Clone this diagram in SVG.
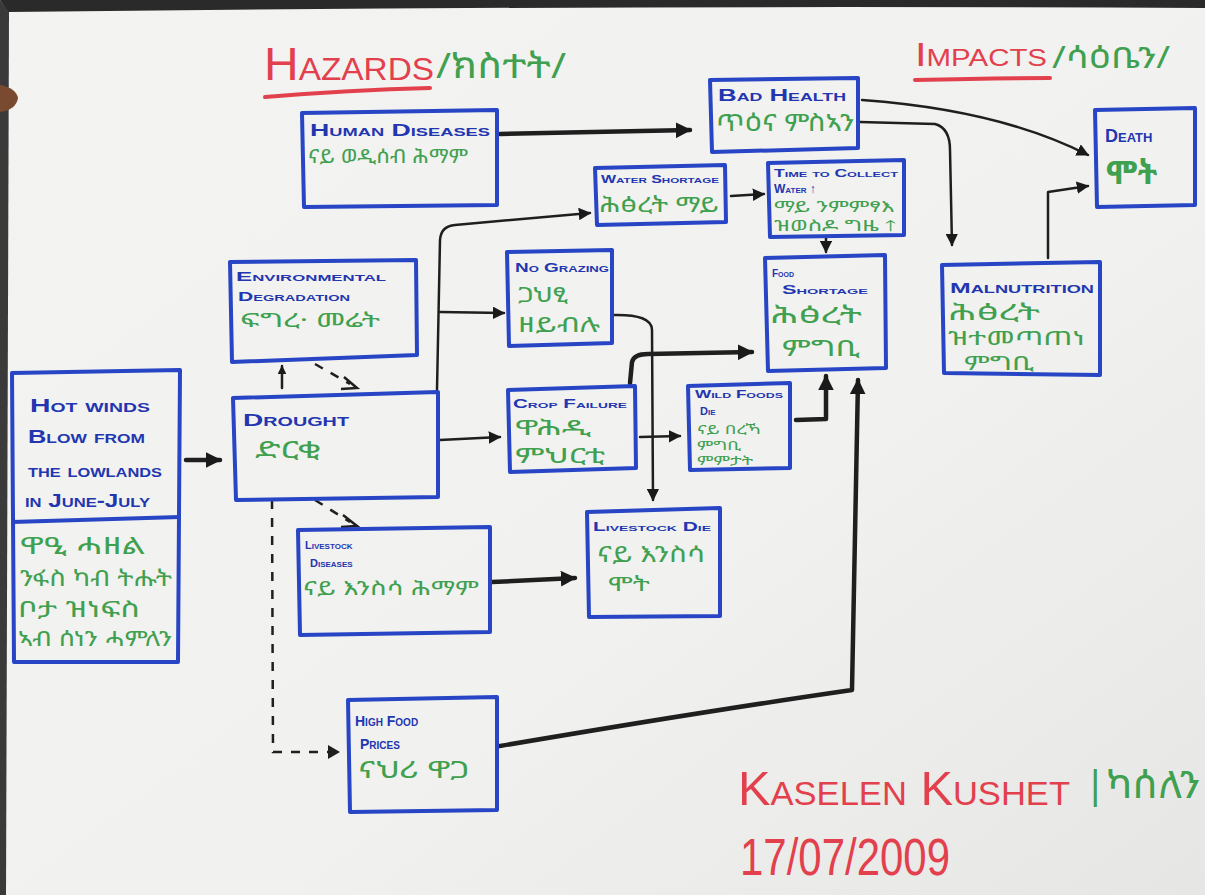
<svg xmlns="http://www.w3.org/2000/svg" width="1205" height="895" viewBox="0 0 1205 895">
<defs>
<linearGradient id="paper" x1="0" y1="0" x2="1" y2="1">
<stop offset="0" stop-color="#f3f3f1"/>
<stop offset="0.6" stop-color="#f1f1ef"/>
<stop offset="1" stop-color="#e6e6e4"/>
</linearGradient>
<marker id="ah" viewBox="0 0 10 10" refX="9" refY="5" markerWidth="5" markerHeight="5" orient="auto" markerUnits="strokeWidth">
<path d="M0,0 L10,5 L0,10 Z" fill="#1a1a1a"/>
</marker>
<marker id="ahs" viewBox="0 0 10 10" refX="9" refY="5" markerWidth="3.5" markerHeight="3.5" orient="auto" markerUnits="strokeWidth">
<path d="M0,0 L10,5 L0,10 Z" fill="#1a1a1a"/>
</marker>
<style>
.box{fill:none;stroke:#2745c4;stroke-width:4;stroke-linejoin:round}
.en{font-family:"Liberation Sans",Arial,sans-serif;font-variant:small-caps;font-weight:bold;fill:#2236b0}
.am{font-family:"Noto Sans Ethiopic","Abyssinica SIL","Nyala","FreeSerif","Noto Sans",sans-serif;fill:#3fa04f}
.red{font-family:"Liberation Sans",Arial,sans-serif;fill:#e2404d}
.c{fill:none;stroke:#1f1f1f;stroke-width:2.5;stroke-linecap:round;stroke-linejoin:round}
.ct{fill:none;stroke:#1f1f1f;stroke-width:4.5;stroke-linecap:round;stroke-linejoin:round}
.cd{fill:none;stroke:#1f1f1f;stroke-width:2.5;stroke-dasharray:9 9}
</style>
</defs>
<rect width="1205" height="895" fill="url(#paper)"/>
<path d="M0,0 H1205 V8 Q600,5 8,12 Z" fill="#2a2a2a"/>
<path d="M0,0 V895 H6 L9,12 Z" fill="#3a3a3a"/>
<path d="M0,85 Q16,88 18,98 Q16,110 0,112 Z" fill="#7a4a30"/>

<g id="titles">
<text class="red" x="264" y="80" font-size="46" font-variant="small-caps" textLength="170" lengthAdjust="spacingAndGlyphs">Hazards</text>
<path d="M265,97 Q350,90 430,88" stroke="#e2404d" stroke-width="4" fill="none" stroke-linecap="round"/>
<text class="am" x="436" y="78" font-size="34" textLength="130" lengthAdjust="spacingAndGlyphs">/ክስተት/</text>
<text class="red" x="915" y="66" font-size="34" font-variant="small-caps" textLength="132" lengthAdjust="spacingAndGlyphs">Impacts</text>
<path d="M915,80 Q990,78 1050,78" stroke="#e2404d" stroke-width="4" fill="none" stroke-linecap="round"/>
<text class="am" x="1052" y="68" font-size="30" textLength="118" lengthAdjust="spacingAndGlyphs">/ሳዕቤን/</text>
<text class="red" x="738" y="805" font-size="48" font-variant="small-caps" textLength="332" lengthAdjust="spacingAndGlyphs">Kaselen Kushet</text>
<text class="am" x="1084" y="798" font-size="38" textLength="116" lengthAdjust="spacingAndGlyphs">|ካሰለን</text>
<text class="red" x="740" y="875" font-size="52" textLength="210" lengthAdjust="spacingAndGlyphs">17/07/2009</text>
</g>

<g id="connectors">
<path class="ct" d="M500,134 L690,130" marker-end="url(#ahs)"/>
<path class="c" d="M862,100 Q1000,110 1088,155" marker-end="url(#ah)"/>
<path class="c" d="M860,122 L935,124 Q950,128 950,150 L952,245" marker-end="url(#ah)"/>
<path class="c" d="M1048,258 L1048,192 L1088,186" marker-end="url(#ah)"/>
<path class="c" d="M731,196 L764,194" marker-end="url(#ah)"/>
<path class="c" d="M826,236 L826,252" marker-end="url(#ah)"/>
<path class="c" d="M437,390 L440,240 Q441,226 455,225 L590,213" marker-end="url(#ah)"/>
<path class="c" d="M440,312 L504,313" marker-end="url(#ah)"/>
<path class="c" d="M440,440 L500,437" marker-end="url(#ah)"/>
<path class="c" d="M282,388 L282,366" marker-end="url(#ahs)"/>
<path class="cd" d="M315,364 L350,384"/>
<path d="M344,377 L357,388 L341,389" fill="none" stroke="#1f1f1f" stroke-width="2.5"/>
<path class="cd" d="M315,500 L350,522"/>
<path d="M343,515 L357,526 L341,527" fill="none" stroke="#1f1f1f" stroke-width="2.5"/>
<path class="cd" d="M272,500 L273,752 L330,752"/>
<path d="M328,745 L340,752 L328,759 Z" fill="#1f1f1f"/>
<path class="ct" d="M186,460 L220,460" marker-end="url(#ahs)"/>
<path class="c" d="M613,315 Q652,314 652,330 L653,500" marker-end="url(#ah)"/>
<path class="ct" d="M630,383 L632,362 Q634,354 648,354 L752,352" marker-end="url(#ahs)"/>
<path class="c" d="M640,437 L680,436" marker-end="url(#ah)"/>
<path class="ct" d="M796,420 L826,419 L826,376" marker-end="url(#ahs)"/>
<path class="ct" d="M492,582 L575,578" marker-end="url(#ahs)"/>
<path class="ct" d="M500,746 Q700,712 852,690 L858,380" marker-end="url(#ahs)"/>
</g>

<g id="human-diseases">
<path class="box" d="M302,113 L497,110 L497,205 L304,207 Z"/>
<text class="en" x="310" y="136" font-size="16" textLength="180" lengthAdjust="spacingAndGlyphs">Human Diseases</text>
<text class="am" x="308" y="163" font-size="19" textLength="160" lengthAdjust="spacingAndGlyphs">ናይ ወዲሰብ ሕማም</text>
</g>
<g id="bad-health">
<path class="box" d="M710,80 L858,78 L858,148 L712,152 Z"/>
<text class="en" x="718" y="101" font-size="16" textLength="128" lengthAdjust="spacingAndGlyphs">Bad Health</text>
<text class="am" x="716" y="131" font-size="24" textLength="138" lengthAdjust="spacingAndGlyphs">ጥዕና ምስኣን</text>
</g>
<g id="death">
<path class="box" d="M1095,110 L1195,108 L1195,205 L1097,207 Z"/>
<text class="en" x="1105" y="142" font-size="18">Death</text>
<text class="am" x="1106" y="184" font-size="32" font-weight="bold" fill="#2f9a45">ሞት</text>
</g>
<g id="water-shortage">
<path class="box" d="M595,168 L725,165 L726,222 L597,225 Z"/>
<text class="en" x="601" y="183" font-size="11" textLength="118" lengthAdjust="spacingAndGlyphs">Water Shortage</text>
<text class="am" x="599" y="212" font-size="21" textLength="120" lengthAdjust="spacingAndGlyphs">ሕፅረት ማይ</text>
</g>
<g id="time-to-collect-water">
<path class="box" d="M768,163 L904,160 L904,235 L770,237 Z"/>
<text class="en" x="774" y="177" font-size="11" textLength="124" lengthAdjust="spacingAndGlyphs">Time to Collect</text>
<text class="en" x="774" y="193" font-size="12">Water ↑</text>
<text class="am" x="774" y="212" font-size="15" textLength="120" lengthAdjust="spacingAndGlyphs">ማይ ንምምፃእ</text>
<text class="am" x="774" y="231" font-size="15" textLength="122" lengthAdjust="spacingAndGlyphs">ዝወስዶ ግዜ ↑</text>
</g>
<g id="environmental-degradation">
<path class="box" d="M230,262 L416,260 L417,355 L232,362 Z"/>
<text class="en" x="236" y="281" font-size="13" textLength="150" lengthAdjust="spacingAndGlyphs">Environmental</text>
<text class="en" x="238" y="301" font-size="13" textLength="112" lengthAdjust="spacingAndGlyphs">Degradation</text>
<text class="am" x="240" y="327" font-size="19" textLength="140" lengthAdjust="spacingAndGlyphs">ፍግረ· መሬት</text>
</g>
<g id="no-grazing">
<path class="box" d="M507,252 L612,250 L612,343 L509,346 Z"/>
<text class="en" x="515" y="272" font-size="13" textLength="94" lengthAdjust="spacingAndGlyphs">No Grazing</text>
<text class="am" x="518" y="302" font-size="21" textLength="50" lengthAdjust="spacingAndGlyphs">ጋህፂ</text>
<text class="am" x="518" y="332" font-size="21" textLength="82" lengthAdjust="spacingAndGlyphs">ዘይብሉ</text>
</g>
<g id="food-shortage">
<path class="box" d="M765,258 L885,255 L886,368 L768,371 Z"/>
<text class="en" x="772" y="277" font-size="10">Food</text>
<text class="en" x="782" y="294" font-size="12" textLength="86" lengthAdjust="spacingAndGlyphs">Shortage</text>
<text class="am" x="770" y="323" font-size="23" textLength="92" lengthAdjust="spacingAndGlyphs">ሕፅረት</text>
<text class="am" x="782" y="356" font-size="23" textLength="78" lengthAdjust="spacingAndGlyphs">ምግቢ</text>
</g>
<g id="malnutrition">
<path class="box" d="M942,265 L1100,262 L1100,375 L944,373 Z"/>
<text class="en" x="950" y="293" font-size="15" textLength="144" lengthAdjust="spacingAndGlyphs">Malnutrition</text>
<text class="am" x="948" y="320" font-size="22" textLength="92" lengthAdjust="spacingAndGlyphs">ሕፅረት</text>
<text class="am" x="948" y="345" font-size="19" textLength="137" lengthAdjust="spacingAndGlyphs">ዝተመጣጠነ</text>
<text class="am" x="964" y="370" font-size="19" textLength="70" lengthAdjust="spacingAndGlyphs">ምግቢ</text>
</g>
<g id="hot-winds">
<path class="box" d="M12,373 L180,370 L178,662 L14,662 Z"/>
<path class="box" d="M12,522 L180,517"/>
<text class="en" x="30" y="412" font-size="19" textLength="120" lengthAdjust="spacingAndGlyphs">Hot winds</text>
<text class="en" x="28" y="443" font-size="19" textLength="117" lengthAdjust="spacingAndGlyphs">Blow from</text>
<text class="en" x="28" y="477" font-size="19" textLength="134" lengthAdjust="spacingAndGlyphs">the lowlands</text>
<text class="en" x="25" y="507" font-size="19" textLength="125" lengthAdjust="spacingAndGlyphs">in June-July</text>
<text class="am" x="20" y="554" font-size="24" textLength="125" lengthAdjust="spacingAndGlyphs">ዋዒ ሓዘል</text>
<text class="am" x="20" y="586" font-size="22" textLength="152" lengthAdjust="spacingAndGlyphs">ንፋስ ካብ ትሑት</text>
<text class="am" x="18" y="617" font-size="22" textLength="122" lengthAdjust="spacingAndGlyphs">ቦታ ዝነፍስ</text>
<text class="am" x="18" y="646" font-size="21" textLength="154" lengthAdjust="spacingAndGlyphs">ኣብ ሰነን ሓምለን</text>
</g>
<g id="drought">
<path class="box" d="M233,398 L438,392 L438,497 L236,500 Z"/>
<text class="en" x="243" y="426" font-size="17" textLength="106" lengthAdjust="spacingAndGlyphs">Drought</text>
<text class="am" x="255" y="458" font-size="24" textLength="66" lengthAdjust="spacingAndGlyphs">ድርቂ</text>
</g>
<g id="crop-failure">
<path class="box" d="M508,390 L635,386 L636,468 L510,472 Z"/>
<text class="en" x="513" y="408" font-size="12" textLength="114" lengthAdjust="spacingAndGlyphs">Crop Failure</text>
<text class="am" x="515" y="435" font-size="21" textLength="76" lengthAdjust="spacingAndGlyphs">ዋሕዲ</text>
<text class="am" x="515" y="463" font-size="21" textLength="90" lengthAdjust="spacingAndGlyphs">ምህርቲ</text>
</g>
<g id="wild-foods-die">
<path class="box" d="M688,386 L790,383 L790,468 L690,470 Z"/>
<text class="en" x="695" y="398" font-size="11" textLength="88" lengthAdjust="spacingAndGlyphs">Wild Foods</text>
<text class="en" x="700" y="415" font-size="11">Die</text>
<text class="am" x="697" y="434" font-size="13" textLength="64" lengthAdjust="spacingAndGlyphs">ናይ በረኻ</text>
<text class="am" x="697" y="450" font-size="12" textLength="44" lengthAdjust="spacingAndGlyphs">ምግቢ</text>
<text class="am" x="697" y="465" font-size="12" textLength="56" lengthAdjust="spacingAndGlyphs">ምምታት</text>
</g>
<g id="livestock-diseases">
<path class="box" d="M298,530 L490,527 L490,632 L300,635 Z"/>
<text class="en" x="305" y="549" font-size="11">Livestock</text>
<text class="en" x="310" y="567" font-size="11">Diseases</text>
<text class="am" x="303" y="595" font-size="19" textLength="176" lengthAdjust="spacingAndGlyphs">ናይ እንስሳ ሕማም</text>
</g>
<g id="livestock-die">
<path class="box" d="M587,512 L720,508 L720,616 L589,617 Z"/>
<text class="en" x="593" y="531" font-size="12" textLength="118" lengthAdjust="spacingAndGlyphs">Livestock Die</text>
<text class="am" x="597" y="562" font-size="22" textLength="108" lengthAdjust="spacingAndGlyphs">ናይ እንስሳ</text>
<text class="am" x="608" y="591" font-size="20" textLength="42" lengthAdjust="spacingAndGlyphs">ሞት</text>
</g>
<g id="high-food-prices">
<path class="box" d="M348,700 L497,697 L497,810 L350,812 Z"/>
<text class="en" x="355" y="726" font-size="14">High Food</text>
<text class="en" x="360" y="749" font-size="14">Prices</text>
<text class="am" x="358" y="778" font-size="24" textLength="112" lengthAdjust="spacingAndGlyphs">ናህሪ ዋጋ</text>
</g>
</svg>
